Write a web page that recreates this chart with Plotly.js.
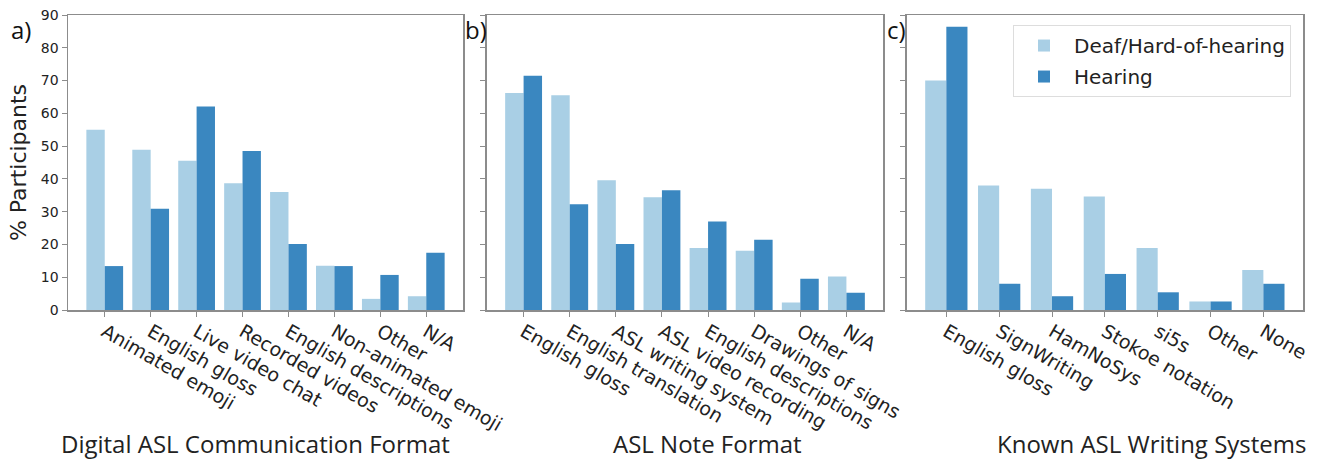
<!DOCTYPE html>
<html>
<head>
<meta charset="utf-8">
<script src="https://cdn.plot.ly/plotly-3.0.1.min.js"></script>
<style>html,body{margin:0;padding:0;background:#fff;}#chart{width:1325px;height:459px;}</style>
</head>
<body>
<div id="chart"></div>
<script>
// Panel a: Digital ASL Communication Format
const catsA = ["Animated emoji", "English gloss", "Live video chat", "Recorded videos", "English descriptions", "Non-animated emoji", "Other", "N/A"];
const deafA = [55.0, 48.9, 45.5, 38.7, 36.0, 13.5, 3.4, 4.2];
const hearA = [13.4, 30.9, 62.1, 48.5, 20.1, 13.4, 10.7, 17.5];

// Panel b: ASL Note Format
const catsB = ["English gloss", "English translation", "ASL writing system", "ASL video recording", "English descriptions", "Drawings of signs", "Other", "N/A"];
const deafB = [66.2, 65.5, 39.6, 34.4, 18.9, 18.1, 2.3, 10.2];
const hearB = [71.5, 32.3, 20.1, 36.5, 27.0, 21.4, 9.5, 5.3];

// Panel c: Known ASL Writing Systems
const catsC = ["English gloss", "SignWriting", "HamNoSys", "Stokoe notation", "si5s", "Other", "None"];
const deafC = [70.0, 38.0, 37.0, 34.6, 18.9, 2.6, 12.2];
const hearC = [86.4, 8.0, 4.2, 11.0, 5.4, 2.6, 8.0];

const seriesNames = ["Deaf/Hard-of-hearing", "Hearing"];
const panelTitles = ["Digital ASL Communication Format", "ASL Note Format", "Known ASL Writing Systems"];
const panelLetters = ["a)", "b)", "c)"];
const yTicks = [0, 10, 20, 30, 40, 50, 60, 70, 80, 90];

const LIGHT = "#a9cfe5";
const DARK = "#3a87c0";

function bar(x, y, name, color, xa, ya, show) {
  return {type: "bar", x: x, y: y, name: name, legendgroup: name, showlegend: show,
          marker: {color: color, line: {width: 0}}, xaxis: xa, yaxis: ya, hoverinfo: "x+y"};
}

const data = [
  bar(catsA, deafA, seriesNames[0], LIGHT, "x", "y", false),
  bar(catsA, hearA, seriesNames[1], DARK, "x", "y", false),
  bar(catsB, deafB, seriesNames[0], LIGHT, "x2", "y2", false),
  bar(catsB, hearB, seriesNames[1], DARK, "x2", "y2", false),
  bar(catsC, deafC, seriesNames[0], LIGHT, "x3", "y3", true),
  bar(catsC, hearC, seriesNames[1], DARK, "x3", "y3", true)
];

const tickFont = {family: "DejaVu Sans", size: 19, color: "#222"};
const frame = {showline: true, linecolor: "#8c8c8c", linewidth: 1.5, mirror: true,
               ticks: "outside", ticklen: 5, tickcolor: "#8c8c8c", tickwidth: 1, showgrid: false, zeroline: false};

function xax(domain, n, anchor) {
  return Object.assign({}, frame, {domain: domain, anchor: anchor, type: "category",
    range: [-0.8, n - 0.2], tickangle: 30, tickfont: tickFont, ticklabelstandoff: -3, automargin: false});
}
function yax(showLabels, anchor) {
  return Object.assign({}, frame, {domain: [0, 1], anchor: anchor, range: [0, 90], tickvals: yTicks,
    showticklabels: showLabels, tickfont: {family: "DejaVu Sans", size: 14, color: "#222"}, automargin: false});
}

const W = 1325, L = 68, R = 22;
const PW = W - L - R;
function px(a) { return (a - L) / PW; }
const titleY = (310 - 443) / 295;
const letterY = (310 - 29) / 295;
const titleFont = {family: "Open Sans", size: 24, color: "#222"};
const letterFont = {family: "Open Sans", size: 24, color: "#111"};

const layout = {
  width: 1325, height: 459,
  margin: {l: L, r: R, t: 15, b: 149},
  paper_bgcolor: "#fff", plot_bgcolor: "#fff",
  barmode: "group", bargap: 0.2, bargroupgap: 0,
  showlegend: true,
  legend: {x: px(1291), y: 0.966, xanchor: "right", yanchor: "top",
           font: {family: "DejaVu Sans", size: 20, color: "#222"}, itemwidth: 50,
           bgcolor: "#fff", bordercolor: "#dddddd", borderwidth: 1, tracegroupgap: 2},
  xaxis: xax([0, px(463)], catsA.length, "y"),
  xaxis2: xax([px(486.7), px(883.3)], catsB.length, "y2"),
  xaxis3: Object.assign(xax([px(906.7), 1], catsC.length, "y3"), {range: [-0.75, catsC.length - 0.25]}),
  yaxis: Object.assign(yax(true, "x"), {title: {text: "% Participants", font: {family: "DejaVu Sans", size: 22, color: "#222"}, standoff: 8}}),
  yaxis2: Object.assign(yax(false, "x2"), {matches: "y"}),
  yaxis3: Object.assign(yax(false, "x3"), {matches: "y"}),
  annotations: [
    {text: panelTitles[0], xref: "paper", yref: "paper", x: px(255), y: titleY, xanchor: "center", yanchor: "middle", showarrow: false, font: titleFont},
    {text: panelTitles[1], xref: "paper", yref: "paper", x: px(707.5), y: titleY, xanchor: "center", yanchor: "middle", showarrow: false, font: titleFont},
    {text: panelTitles[2], xref: "paper", yref: "paper", x: px(1151), y: titleY, xanchor: "center", yanchor: "middle", showarrow: false, font: titleFont},
    {text: panelLetters[0], xref: "paper", yref: "paper", x: px(21), y: letterY, xanchor: "center", yanchor: "middle", showarrow: false, font: letterFont},
    {text: panelLetters[1], xref: "paper", yref: "paper", x: px(476), y: letterY, xanchor: "center", yanchor: "middle", showarrow: false, font: letterFont},
    {text: panelLetters[2], xref: "paper", yref: "paper", x: px(896), y: letterY, xanchor: "center", yanchor: "middle", showarrow: false, font: letterFont}
  ]
};

Plotly.newPlot("chart", data, layout, {displayModeBar: false, staticPlot: true});
</script>
</body>
</html>
